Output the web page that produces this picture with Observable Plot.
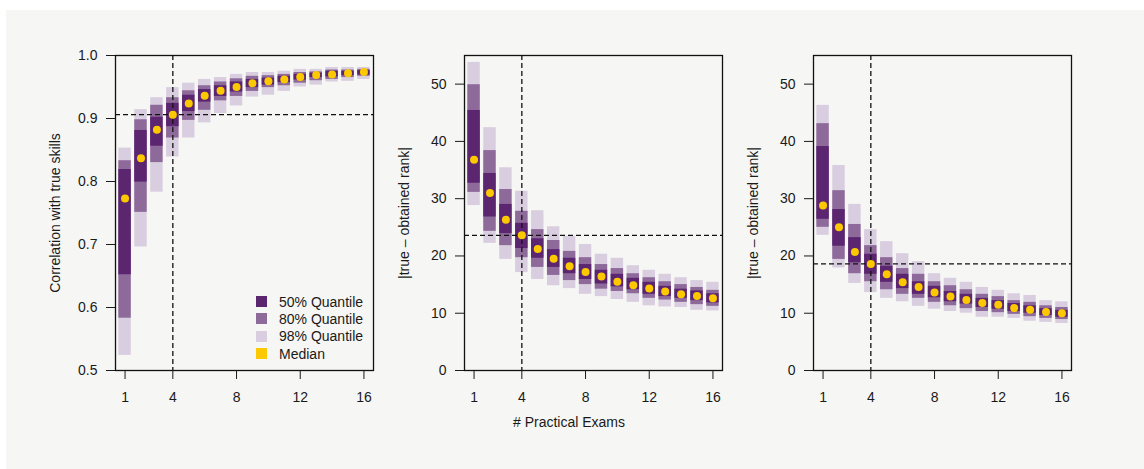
<!DOCTYPE html>
<html>
<head>
<meta charset="utf-8">
<script src="https://cdn.jsdelivr.net/npm/d3@7"></script>
<script src="https://cdn.jsdelivr.net/npm/@observablehq/plot@0.6"></script>
<style>
  html, body { margin: 0; padding: 0; background: #ffffff; }
  #wrap { position: relative; width: 1144px; height: 469px; overflow: hidden; font-family: "Liberation Sans", Arial, Helvetica, sans-serif; color: #1a1a1a; }
  #bg { position: absolute; left: 6px; top: 10px; right: 0; bottom: 0; background: #f6f6f4; }
  .panel { position: absolute; top: 0; }
  #legend { position: absolute; left: 256px; top: 293px; font-size: 14px; }
  #legend .row { display: flex; align-items: center; height: 17.3px; }
  #legend .sw { width: 11px; height: 11px; margin-right: 12px; }
  #xlabel { position: absolute; left: 0; width: 1138px; text-align: center; top: 414px; font-size: 14px; }
</style>
</head>
<body>
<div id="wrap">
  <div id="bg"></div>
  <div id="legend"></div>
  <div id="xlabel"></div>
</div>
<script>
// ---------- data ----------
const exams = [1, 2, 3, 4, 5, 6, 7, 8, 9, 10, 11, 12, 13, 14, 15, 16];
const xTicks = [1, 4, 8, 12, 16];
const corrTicks = [0.5, 0.6, 0.7, 0.8, 0.9, 1.0];
const rankTicks = [0, 10, 20, 30, 40, 50];
const cutoffExam = 4;

const xTitle = "# Practical Exams";
const corrTitle = "Correlation with true skills";
const rankTitle = "|true – obtained rank|";

const legendLabels = ["50% Quantile", "80% Quantile", "98% Quantile", "Median"];
const bandKeys = ["98% Quantile", "80% Quantile", "50% Quantile"];
const bandColors = ["#d9cedf", "#8e6a9b", "#5b2570"];
const medianColor = "#fcc800";

// Panel 1: correlation with true skills
const corrLo98 = [0.524, 0.696, 0.783, 0.839, 0.869, 0.893, 0.908, 0.920, 0.934, 0.937, 0.943, 0.950, 0.953, 0.958, 0.959, 0.962];
const corrLo80 = [0.583, 0.751, 0.830, 0.869, 0.897, 0.913, 0.928, 0.935, 0.943, 0.949, 0.952, 0.956, 0.960, 0.962, 0.965, 0.967];
const corrLo50 = [0.652, 0.799, 0.856, 0.887, 0.911, 0.926, 0.935, 0.942, 0.949, 0.953, 0.957, 0.961, 0.965, 0.966, 0.968, 0.969];
const corrMed  = [0.773, 0.837, 0.882, 0.906, 0.924, 0.936, 0.944, 0.950, 0.956, 0.959, 0.962, 0.966, 0.969, 0.970, 0.972, 0.974];
const corrHi50 = [0.819, 0.881, 0.902, 0.924, 0.937, 0.946, 0.952, 0.958, 0.962, 0.964, 0.967, 0.970, 0.972, 0.975, 0.975, 0.976];
const corrHi80 = [0.833, 0.898, 0.921, 0.933, 0.944, 0.952, 0.958, 0.963, 0.967, 0.968, 0.970, 0.973, 0.974, 0.977, 0.977, 0.978];
const corrHi98 = [0.853, 0.914, 0.933, 0.949, 0.956, 0.962, 0.965, 0.970, 0.973, 0.973, 0.975, 0.978, 0.978, 0.981, 0.981, 0.981];

// Panel 2: |true - obtained rank|
const rankALo98 = [28.8, 22.2, 19.4, 17.1, 15.9, 14.8, 14.3, 13.3, 12.9, 12.4, 11.9, 11.3, 11.1, 11.0, 10.5, 10.4];
const rankALo80 = [31.1, 24.3, 21.8, 19.7, 18.0, 16.6, 15.7, 15.0, 14.2, 13.8, 13.4, 12.6, 12.3, 11.9, 11.5, 11.2];
const rankALo50 = [32.7, 26.8, 23.9, 21.3, 19.6, 18.0, 16.9, 15.9, 15.1, 14.6, 14.1, 13.3, 12.9, 12.6, 12.2, 11.8];
const rankAMed  = [36.8, 31.0, 26.3, 23.6, 21.2, 19.5, 18.2, 17.2, 16.4, 15.5, 14.9, 14.3, 13.8, 13.3, 13.0, 12.6];
const rankAHi50 = [45.4, 34.4, 29.0, 25.7, 23.0, 21.1, 19.6, 18.5, 17.5, 16.8, 16.1, 15.4, 14.7, 14.2, 13.9, 13.4];
const rankAHi80 = [49.9, 38.4, 31.6, 27.8, 24.6, 22.7, 20.8, 19.7, 18.5, 17.8, 16.9, 16.2, 15.5, 15.0, 14.5, 14.0];
const rankAHi98 = [53.8, 42.4, 35.4, 31.3, 27.9, 25.1, 23.4, 22.0, 20.3, 19.6, 18.3, 17.5, 16.8, 16.2, 15.7, 15.4];

// Panel 3: |true - obtained rank|
const rankBLo98 = [23.6, 17.9, 15.2, 13.6, 12.6, 12.0, 11.2, 10.7, 10.3, 10.0, 9.3, 9.3, 9.1, 8.6, 8.4, 8.2];
const rankBLo80 = [25.0, 19.4, 16.9, 15.5, 14.1, 13.3, 12.6, 11.9, 11.3, 10.8, 10.3, 10.1, 9.8, 9.4, 9.1, 8.9];
const rankBLo50 = [26.4, 21.7, 18.8, 16.8, 15.4, 14.3, 13.3, 12.7, 12.0, 11.6, 11.0, 10.7, 10.3, 10.0, 9.6, 9.3];
const rankBMed  = [28.8, 25.0, 20.7, 18.6, 16.8, 15.4, 14.6, 13.6, 12.9, 12.3, 11.8, 11.5, 10.9, 10.6, 10.2, 10.0];
const rankBHi50 = [39.1, 28.1, 23.2, 20.3, 18.2, 16.8, 15.5, 14.7, 13.8, 13.3, 12.6, 12.2, 11.7, 11.3, 10.8, 10.5];
const rankBHi80 = [43.1, 31.4, 25.5, 21.8, 19.7, 17.8, 16.8, 15.5, 14.8, 14.1, 13.3, 12.9, 12.2, 11.9, 11.3, 11.0];
const rankBHi98 = [46.3, 35.8, 29.0, 24.6, 22.5, 20.4, 19.0, 16.9, 16.1, 15.4, 14.5, 14.0, 13.4, 13.1, 12.2, 12.0];

// ---------- build ----------
function bandRows(lo98, lo80, lo50, hi50, hi80, hi98) {
  const rows = [];
  const pairs = [[lo98, hi98], [lo80, hi80], [lo50, hi50]];
  pairs.forEach(([lo, hi], k) => {
    exams.forEach((x, i) => rows.push({x, lo: lo[i], hi: hi[i], band: bandKeys[k]}));
  });
  return rows;
}

const panels = [
  {rows: bandRows(corrLo98, corrLo80, corrLo50, corrHi50, corrHi80, corrHi98), med: corrMed,
   domain: [0.5, 1.0], ticks: corrTicks, fmt: d3.format(".1f"), title: corrTitle},
  {rows: bandRows(rankALo98, rankALo80, rankALo50, rankAHi50, rankAHi80, rankAHi98), med: rankAMed,
   domain: [0, 55], ticks: rankTicks, fmt: d3.format("d"), title: rankTitle},
  {rows: bandRows(rankBLo98, rankBLo80, rankBLo50, rankBHi50, rankBHi80, rankBHi98), med: rankBMed,
   domain: [0, 55], ticks: rankTicks, fmt: d3.format("d"), title: rankTitle}
];

const wrap = document.getElementById("wrap");
const halfWidth = 0.39;
const cutIndex = exams.indexOf(cutoffExam);

panels.forEach((p, idx) => {
  const medRows = exams.map((x, i) => ({x, y: p.med[i]}));
  const chart = Plot.plot({
    width: 350,
    height: 430,
    marginLeft: 80,
    marginRight: 12,
    marginTop: 55,
    marginBottom: 60,
    style: {background: "transparent", fontFamily: "'Liberation Sans', Arial, Helvetica, sans-serif", fontSize: "14px", color: "#1a1a1a"},
    x: {domain: [0.4, 16.6]},
    y: {domain: p.domain},
    color: {domain: bandKeys, range: bandColors},
    marks: [
      Plot.rect(p.rows, {x1: d => d.x - halfWidth, x2: d => d.x + halfWidth, y1: "lo", y2: "hi", fill: "band"}),
      Plot.ruleX([cutoffExam], {stroke: "#111", strokeWidth: 1.3, strokeDasharray: "5,3"}),
      Plot.ruleY([p.med[cutIndex]], {stroke: "#111", strokeWidth: 1.3, strokeDasharray: "5,3"}),
      Plot.dot(medRows, {x: "x", y: "y", r: 4, fill: medianColor, stroke: "none"}),
      Plot.frame({stroke: "#111", strokeWidth: 1.3}),
      Plot.axisX({ticks: xTicks, tickSize: 9, tickPadding: 13, label: null, tickFormat: d3.format("d")}),
      Plot.axisY({ticks: p.ticks, tickSize: 9, tickPadding: 9, tickFormat: p.fmt, label: p.title,
                  labelAnchor: "center", labelOffset: 65, labelArrow: "none"})
    ]
  });
  chart.classList.add("panel");
  chart.style.left = (35 + 349 * idx) + "px";
  wrap.appendChild(chart);
});

// legend (inside panel 1)
const legend = document.getElementById("legend");
const legendColors = [bandColors[2], bandColors[1], bandColors[0], medianColor];
legendLabels.forEach((lab, i) => {
  const row = document.createElement("div");
  row.className = "row";
  const sw = document.createElement("div");
  sw.className = "sw";
  sw.style.background = legendColors[i];
  const t = document.createElement("span");
  t.textContent = lab;
  row.appendChild(sw);
  row.appendChild(t);
  legend.appendChild(row);
});
document.getElementById("xlabel").textContent = xTitle;
</script>
</body>
</html>
